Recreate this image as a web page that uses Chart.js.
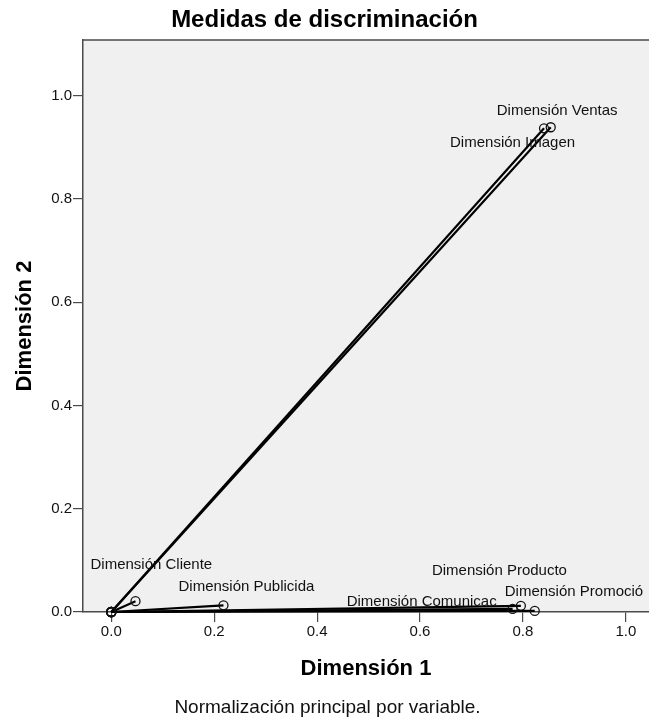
<!DOCTYPE html>
<html><head><meta charset="utf-8">
<script src="https://cdn.jsdelivr.net/npm/chart.js@4/dist/chart.umd.min.js"></script>
<style>html,body{margin:0;padding:0;background:#fff;overflow:hidden}#wrap{width:649px;height:727px;position:relative}</style>
</head><body><div id="wrap"><canvas id="c"></canvas></div>
<script>
const variables = ['Dimensión Cliente', 'Dimensión Publicida', 'Dimensión Comunicac', 'Dimensión Producto', 'Dimensión Promoció', 'Dimensión Imagen', 'Dimensión Ventas'];
const dim1 = [0.047, 0.218, 0.780, 0.796, 0.823, 0.841, 0.854];
const dim2 = [0.021, 0.013, 0.006, 0.012, 0.002, 0.937, 0.939];
const xTicks = [0.0, 0.2, 0.4, 0.6, 0.8, 1.0];
const yTicks = [0.0, 0.2, 0.4, 0.6, 0.8, 1.0];
const labelOffsets = [[-45, -36], [-45, -18], [-166, -7], [-89, -35], [-30, -19], [-94, 15], [-54, -16]];

const FONT = '"Liberation Sans", Arial, Helvetica, sans-serif';
const AXIS = '#4a4a4a';

const datasets = variables.map((name, i) => ({
  label: name,
  data: [{x: 0, y: 0}, {x: dim1[i], y: dim2[i]}],
  showLine: true,
  borderColor: '#000',
  borderWidth: 2.2,
  pointRadius: 4.5,
  pointBorderWidth: 1.3,
  pointBorderColor: '#111',
  pointBackgroundColor: 'rgba(0,0,0,0)',
  clip: false
}));

const framePlugin = {
  id: 'frame',
  beforeDraw(chart) {
    const {ctx, chartArea: a} = chart;
    ctx.save();
    ctx.fillStyle = '#f0f0f0';
    ctx.fillRect(a.left, a.top, a.right - a.left, a.bottom - a.top);
    ctx.strokeStyle = AXIS;
    ctx.lineWidth = 1.5;
    ctx.beginPath();
    ctx.moveTo(a.left, a.top);
    ctx.lineTo(a.right + 2, a.top);
    ctx.stroke();
    ctx.restore();
  },
  afterDraw(chart) {
    const {ctx} = chart;
    ctx.save();
    ctx.font = '15px ' + FONT;
    ctx.fillStyle = '#111';
    ctx.textAlign = 'left';
    ctx.textBaseline = 'middle';
    chart.data.datasets.forEach((ds, i) => {
      const pt = chart.getDatasetMeta(i).data[1];
      ctx.fillText(ds.label, pt.x + labelOffsets[i][0], pt.y + labelOffsets[i][1]);
    });
    ctx.font = '19px ' + FONT;
    ctx.fillStyle = '#111';
    ctx.textAlign = 'center';
    ctx.fillText('Normalización principal por variable.', chart.width / 2 + 3, 708);
    ctx.restore();
  }
};

new Chart(document.getElementById('c'), {
  type: 'scatter',
  data: {datasets},
  plugins: [framePlugin],
  options: {
    responsive: true,
    maintainAspectRatio: false,
    animation: false,
    layout: {padding: 0, autoPadding: false},
    plugins: {
      legend: {display: false},
      tooltip: {enabled: false},
      title: {
        display: true,
        text: 'Medidas de discriminación',
        color: '#000',
        font: {family: FONT, size: 24, weight: 'bold'},
        padding: {top: 6, bottom: 5.2}
      }
    },
    scales: {
      x: {
        type: 'linear',
        min: -0.055,
        max: 1.045,
        afterFit: s => { s.height = 115; s.paddingLeft = 0; s.paddingRight = 0; },
        afterBuildTicks: s => { s.ticks = xTicks.map(v => ({value: v})); },
        ticks: {
          color: '#111',
          font: {family: FONT, size: 15},
          padding: 1,
          maxRotation: 0,
          callback: v => Number(v).toFixed(1)
        },
        grid: {drawOnChartArea: false, drawTicks: true, tickLength: 10, color: AXIS, lineWidth: 1.2},
        border: {display: true, color: AXIS, width: 1.5},
        title: {
          display: true,
          text: 'Dimensión 1',
          color: '#000',
          font: {family: FONT, size: 22, weight: 'bold'},
          padding: {top: 0, bottom: 45}
        }
      },
      y: {
        type: 'linear',
        min: 0,
        max: 1.108,
        afterFit: s => { s.width = 83; s.paddingTop = 0; s.paddingBottom = 0; },
        afterBuildTicks: s => { s.ticks = yTicks.map(v => ({value: v})); },
        ticks: {
          color: '#111',
          font: {family: FONT, size: 15},
          padding: 1,
          callback: v => Number(v).toFixed(1)
        },
        grid: {drawOnChartArea: false, drawTicks: true, tickLength: 10, color: AXIS, lineWidth: 1.2},
        border: {display: true, color: AXIS, width: 1.5},
        title: {
          display: true,
          text: 'Dimensión 2',
          color: '#000',
          font: {family: FONT, size: 22, weight: 'bold'},
          padding: {top: 12, bottom: 0}
        }
      }
    }
  }
});
</script></body></html>
